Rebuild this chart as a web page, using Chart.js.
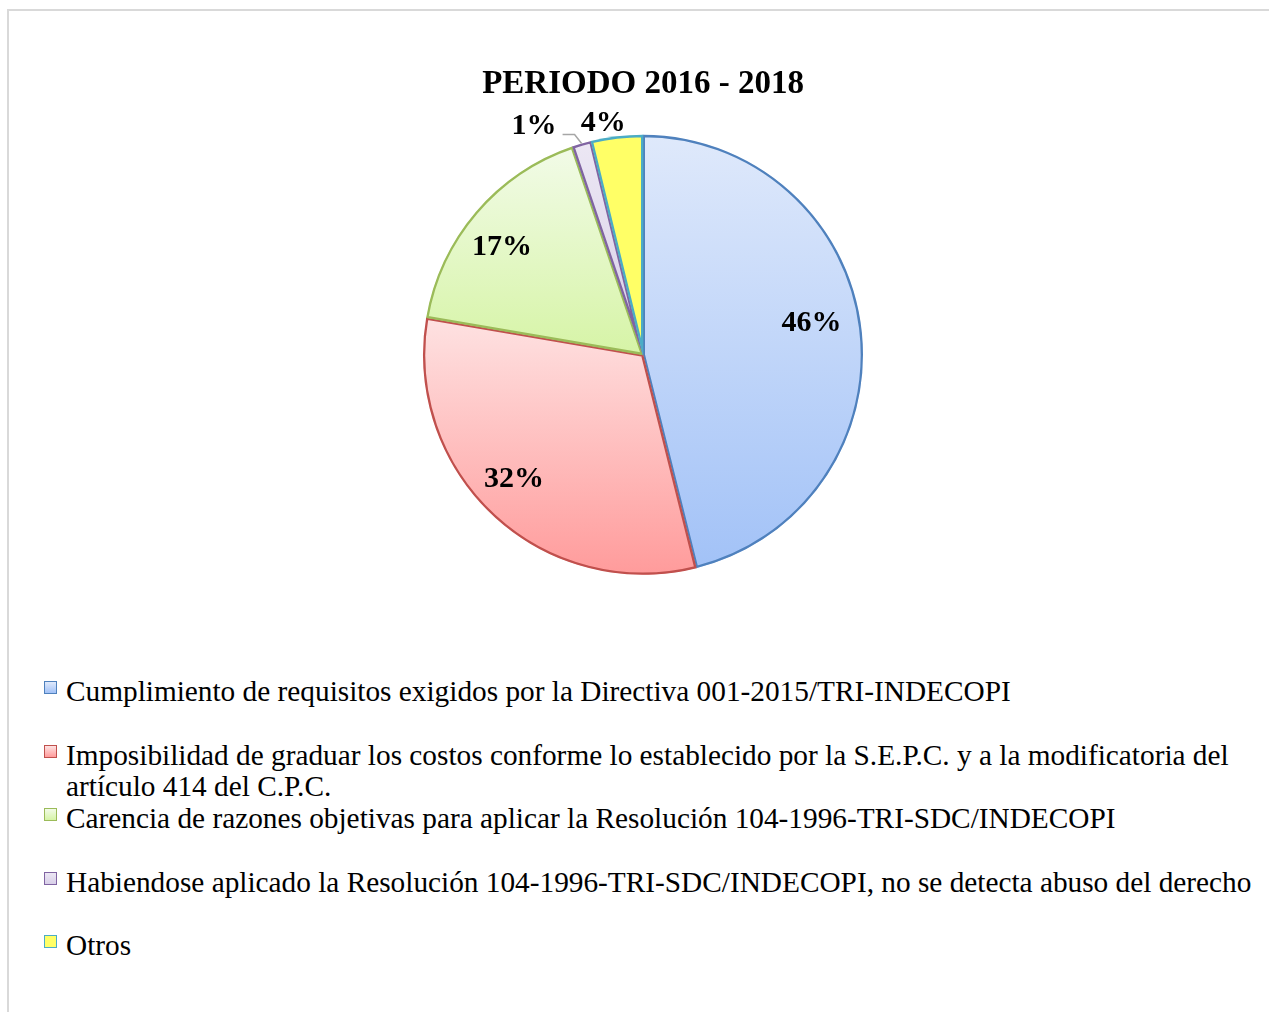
<!DOCTYPE html>
<html>
<head>
<meta charset="utf-8">
<script src="https://cdn.jsdelivr.net/npm/chart.js@4.4.1/dist/chart.umd.min.js"></script>
<style>
  body { margin: 0; background: #fff; }
  #page { position: relative; width: 1269px; height: 1012px; overflow: hidden; }
  #frame { position: absolute; left: 7px; top: 9px; right: 0; bottom: 0;
    border-top: 2px solid #d9d9d9; border-left: 2px solid #d9d9d9; }
  #pie { position: absolute; left: 0; top: 0; }
  #legend { position: absolute; left: 0; top: 676px; width: 1269px;
    font-family: "Liberation Serif", "Times New Roman", serif; font-size: 29.3px; color: #000; }
  .item { position: relative; height: 63.5px; }
  .box { position: absolute; left: 44px; top: 5px; width: 11px; height: 11px; border: 1px solid; }
  .txt { position: absolute; left: 66px; top: 0; width: 1195px; line-height: 31.5px; }
</style>
</head>
<body>
<div id="page">
  <div id="frame"></div>
  <canvas id="pie" width="1269" height="600"></canvas>
  <div id="legend"></div>
</div>
<script>
"use strict";

// data
let categories = [
  "Cumplimiento de requisitos exigidos por la Directiva 001-2015/TRI-INDECOPI",
  "Imposibilidad de graduar los costos conforme lo establecido por la S.E.P.C. y a la modificatoria del artículo 414 del C.P.C.",
  "Carencia de razones objetivas para aplicar la Resolución 104-1996-TRI-SDC/INDECOPI",
  "Habiendose aplicado la Resolución 104-1996-TRI-SDC/INDECOPI, no se detecta abuso del derecho",
  "Otros"
];
let shares = [46.1, 31.6, 17.1, 1.4, 3.8];
let chartTitle = "PERIODO 2016 - 2018";

// styles
let fillTop = ["#dfe9fb", "#fee2e2", "#f2fbe8", "#ece7f4", "#ffff66"];
let fillBottom = ["#a2c2f7", "#ff9b9b", "#d6f4a6", "#d8cfe8", "#ffff66"];
let edgeColors = ["#4f81bd", "#c0504d", "#9bbb59", "#8064a2", "#4bacc6"];
let pieRadius = 220;
// label spot: r = fraction of radius, a = angle from top in degrees
let labelSpots = [
  { r: 0.78, a: 79.3 }, { r: 0.813, a: 226.1 }, { r: 0.805, a: -52.8 },
  { r: 1.15, a: -25.5, leader: true }, { r: 1.07, a: -9.7 }
];

let total = shares.reduce((a, b) => a + b, 0);

// vertical gradient over the slice's own height
function sliceFill(context) {
  let i = context.dataIndex;
  let chart = context.chart;
  let area = chart.chartArea;
  if (!area) return fillTop[i];
  let cy = (area.top + area.bottom) / 2;
  let before = 0;
  for (let k = 0; k < i; k++) before += shares[k];
  let a0 = -Math.PI / 2 + before / total * 2 * Math.PI;
  let a1 = a0 + shares[i] / total * 2 * Math.PI;
  let ys = [cy, cy + Math.sin(a0) * pieRadius, cy + Math.sin(a1) * pieRadius];
  if (a0 <= Math.PI / 2 && a1 >= Math.PI / 2) ys.push(cy + pieRadius);
  if (a1 >= 1.5 * Math.PI - 1e-6 || a0 <= -Math.PI / 2 + 1e-6) ys.push(cy - pieRadius);
  let y0 = Math.min(...ys), y1 = Math.max(...ys);
  let g = chart.ctx.createLinearGradient(0, y0, 0, y1);
  g.addColorStop(0, fillTop[i]);
  g.addColorStop(1, fillBottom[i]);
  return g;
}

let pctLabels = {
  id: "pctLabels",
  afterDatasetsDraw(chart) {
    let ctx = chart.ctx;
    let meta = chart.getDatasetMeta(0);
    ctx.save();
    ctx.font = 'bold 30px "Liberation Serif", "Times New Roman", serif';
    ctx.fillStyle = "#000";
    ctx.textAlign = "center";
    ctx.textBaseline = "middle";
    meta.data.forEach((arc, i) => {
      let p = arc.getProps(["x", "y", "startAngle", "endAngle", "outerRadius"], true);
      let mid = (p.startAngle + p.endAngle) / 2;
      let spot = labelSpots[i];
      let ang = (spot.a - 90) * Math.PI / 180;
      let lx = p.x + Math.cos(ang) * p.outerRadius * spot.r;
      let ly = p.y + Math.sin(ang) * p.outerRadius * spot.r;
      let txt = Math.round(shares[i] / total * 100) + "%";
      ctx.fillText(txt, lx, ly);
      if (spot.leader) {
        let hw = ctx.measureText(txt).width / 2;
        ctx.beginPath();
        ctx.strokeStyle = "#a6a6a6";
        ctx.lineWidth = 1.5;
        ctx.moveTo(lx + hw + 6, ly + 8);
        ctx.lineTo(lx + hw + 18, ly + 8);
        ctx.lineTo(p.x + Math.cos(mid) * p.outerRadius, p.y + Math.sin(mid) * p.outerRadius);
        ctx.stroke();
      }
    });
    ctx.restore();
  }
};

let chart = new Chart(document.querySelector("#pie"), {
  type: "pie",
  data: {
    labels: categories,
    datasets: [{
      data: shares,
      backgroundColor: sliceFill,
      borderColor: edgeColors,
      borderWidth: 2,
      borderAlign: "inner",
      radius: pieRadius
    }]
  },
  options: {
    responsive: false,
    animation: false,
    events: [],
    layout: { padding: { left: 17, bottom: 25 } },
    plugins: {
      legend: { display: false },
      tooltip: { enabled: false },
      title: {
        display: true,
        text: chartTitle,
        color: "#000",
        font: { family: '"Liberation Serif", "Times New Roman", serif', size: 33, weight: "bold", lineHeight: 1.2 },
        padding: { top: 65, bottom: 30 }
      }
    }
  },
  plugins: [pctLabels]
});

// legend, built from the chart's own labels
let legend = document.querySelector("#legend");
chart.data.labels.forEach((label, i) => {
  let item = document.createElement("div");
  item.className = "item";
  let box = document.createElement("div");
  box.className = "box";
  box.style.borderColor = edgeColors[i];
  box.style.background = `linear-gradient(${fillTop[i]}, ${fillBottom[i]})`;
  let txt = document.createElement("div");
  txt.className = "txt";
  txt.textContent = label;
  item.appendChild(box);
  item.appendChild(txt);
  legend.appendChild(item);
});
</script>
</body>
</html>
